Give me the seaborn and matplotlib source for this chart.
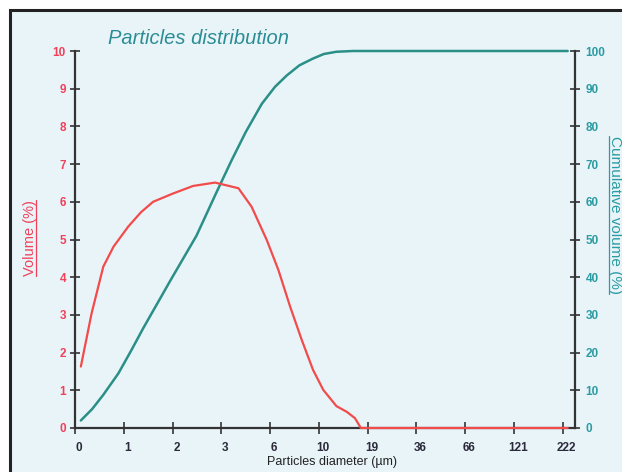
import numpy as np
import pandas as pd
import seaborn as sns
import matplotlib.pyplot as plt
from matplotlib.patches import Rectangle
from matplotlib.lines import Line2D
from matplotlib.transforms import ScaledTranslation

# diameter classes on the x axis (evenly spaced categories)
diam_labels = ['0', '1', '2', '3', '6', '10', '19', '36', '66', '121', '222']

# volume per class (position along the class axis, % volume)
vol_pos = [0.12, 0.34, 0.58, 0.79, 1.09, 1.35, 1.60, 2.01, 2.42, 2.87, 3.35, 3.62, 3.93,
           4.17, 4.41, 4.65, 4.88, 5.09, 5.36, 5.57, 5.74, 5.86, 10.1]
vol_pct = [1.63, 3.04, 4.28, 4.81, 5.34, 5.72, 6.00, 6.22, 6.42, 6.51, 6.36, 5.87, 4.99,
           4.19, 3.22, 2.33, 1.54, 1.01, 0.58, 0.43, 0.26, 0.0, 0.0]

# cumulative volume (%)
cum_pos = [0.12, 0.35, 0.58, 0.89, 1.15, 1.40, 1.95, 2.49, 2.90, 3.21, 3.50, 3.83, 4.10,
           4.34, 4.60, 4.88, 5.10, 5.36, 5.70, 10.1]
cum_pct = [2.0, 5.0, 8.8, 14.5, 20.5, 26.5, 39.0, 51.0, 62.5, 71.0, 78.5, 86.0, 90.5,
           93.5, 96.2, 98.0, 99.2, 99.8, 100.0, 100.0]

red = '#f24b4b'
red_txt = '#f0405a'
teal = '#2a8f87'
teal_txt = '#2a9ca2'
dark = '#333333'

sns.set_style('ticks')
plt.rcParams['font.family'] = ['Liberation Sans', 'DejaVu Sans']

W, H = 622, 472
fig = plt.figure(figsize=(W / 100, H / 100), dpi=100)
fig.patch.set_facecolor('white')

# light blue panel with black frame
fig.add_artist(Rectangle((10 / W, -0.05), 1.0, 1 - 10 / H + 0.05, transform=fig.transFigure,
                         facecolor='#e9f4f9', edgecolor='#222222', lw=2.2, zorder=-5))

ax = fig.add_axes([75 / W, 1 - 428 / H, 500 / W, 377 / H])
ax2 = ax.twinx()
for a in (ax, ax2):
    a.set_facecolor('none')

sns.lineplot(x=vol_pos, y=vol_pct, ax=ax, color=red, lw=1.6, sort=False)
sns.lineplot(x=cum_pos, y=cum_pct, ax=ax2, color=teal, lw=1.8, sort=False)
for a in (ax, ax2):
    for ln in a.lines:
        ln.set_clip_on(False)
        ln.set_zorder(3)
ax.set_zorder(2)
ax2.set_zorder(1)

ax.set_xlim(0, 10.25)
ax.set_ylim(0, 10)
ax2.set_ylim(0, 100)
ax.set_xticks(range(len(diam_labels)))
ax.set_xticklabels(diam_labels)
ax.set_yticks(range(0, 11))
ax2.set_yticks(range(0, 101, 10))

ax.spines['top'].set_visible(False)
ax.spines['right'].set_visible(False)
for s in ('top', 'left', 'bottom'):
    ax2.spines[s].set_visible(False)
for sp in ('left', 'bottom'):
    ax.spines[sp].set_linewidth(1.6)
    ax.spines[sp].set_color(dark)
ax2.spines['right'].set_linewidth(1.6)
ax2.spines['right'].set_color(dark)

ax.tick_params(axis='y', direction='inout', length=7, width=1.2, color=dark,
               labelcolor=red_txt, labelsize=8.5, pad=3)
ax.tick_params(axis='x', direction='inout', length=8, width=1.2, color=dark,
               labelcolor='#2a2a3a', labelsize=8.5, pad=6)
ax2.tick_params(axis='y', direction='inout', length=7, width=1.2, color=dark,
                labelcolor=teal_txt, labelsize=8.5, pad=4)
for lab in ax.get_yticklabels() + ax.get_xticklabels() + ax2.get_yticklabels():
    lab.set_fontweight('bold')
shift = ScaledTranslation(4 / 100, 0, fig.dpi_scale_trans)
for lab in ax.get_xticklabels():
    lab.set_transform(lab.get_transform() + shift)
ax.set_xlabel('')
ax.set_ylabel('')
ax2.set_ylabel('')

fig.text(108 / W, 1 - 38 / H, 'Particles distribution', ha='left', va='center',
         style='italic', color='#2b8d94', fontsize=14.5)
fig.text(332 / W, 1 - 462 / H, 'Particles diameter (µm)', ha='center', va='center',
         fontsize=9, color='#222222')
t_left = fig.text(30 / W, 1 - 238 / H, 'Volume (%)', rotation=90, ha='center',
                  va='center', color=red_txt, fontsize=10.5)
t_right = fig.text(615 / W, 1 - 215 / H, 'Cumulative volume (%)', rotation=270,
                   ha='center', va='center', color=teal_txt, fontsize=11)

# underline the axis titles
renderer = fig.canvas.get_renderer()
inv = fig.transFigure.inverted()
bb = t_left.get_window_extent(renderer)
p0 = inv.transform((bb.x1 - 1, bb.y0))
p1 = inv.transform((bb.x1 - 1, bb.y1))
fig.add_artist(Line2D([p0[0], p1[0]], [p0[1], p1[1]], transform=fig.transFigure,
                      color=red_txt, lw=0.9))
bb = t_right.get_window_extent(renderer)
p0 = inv.transform((bb.x0 + 1, bb.y0))
p1 = inv.transform((bb.x0 + 1, bb.y1))
fig.add_artist(Line2D([p0[0], p1[0]], [p0[1], p1[1]], transform=fig.transFigure,
                      color=teal_txt, lw=0.9))

fig.savefig('out.png', dpi=100)
